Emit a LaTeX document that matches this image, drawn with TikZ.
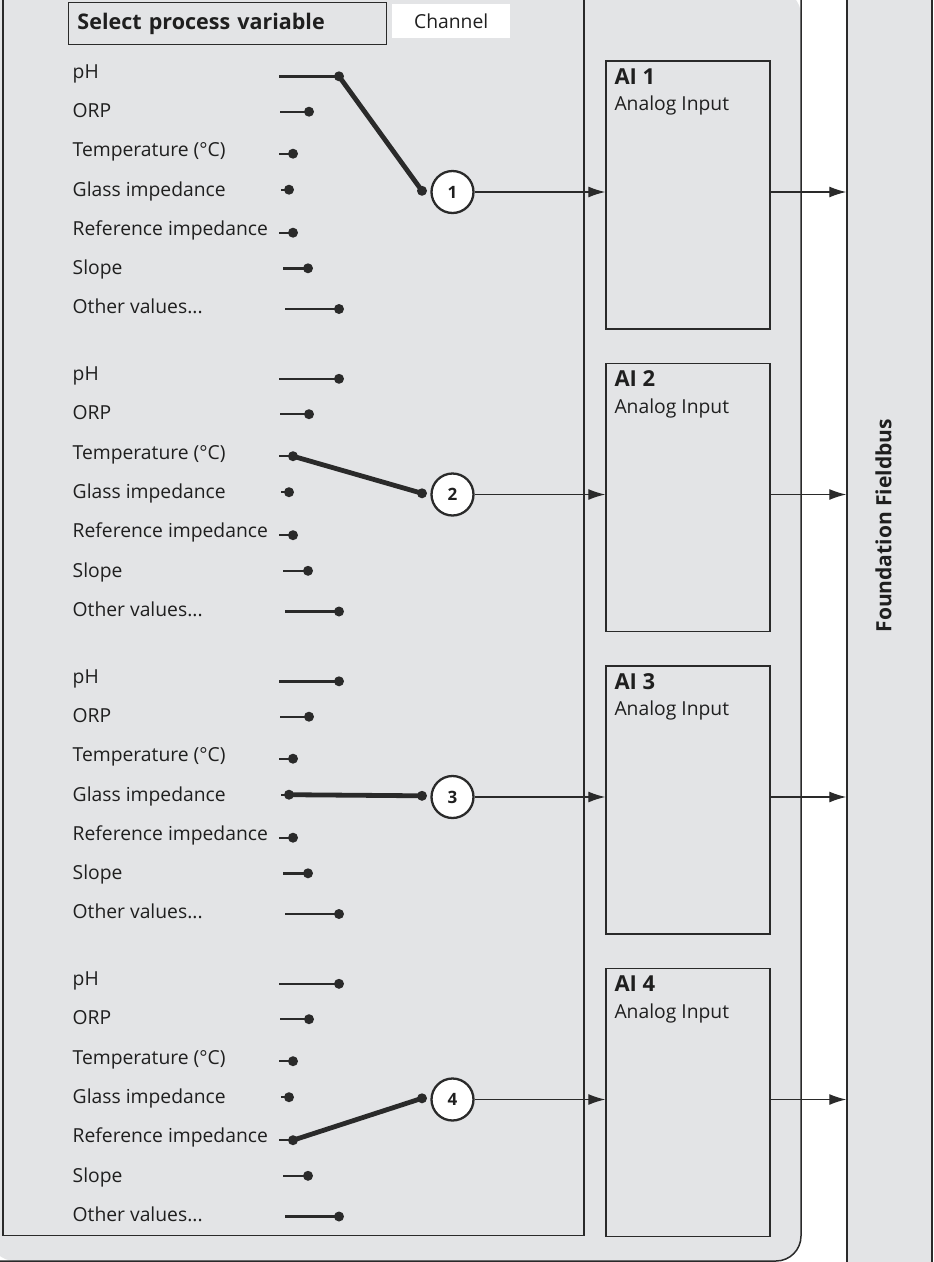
\documentclass[tikz,border=0pt]{standalone}
\usepackage{fontspec}
\setmainfont{Open Sans}
\usetikzlibrary{arrows.meta}
\definecolor{panel}{HTML}{E3E4E6}
\definecolor{ink}{HTML}{2A2A2A}
\definecolor{txt}{HTML}{1F1F1F}
\begin{document}
\begin{tikzpicture}[x=1pt,y=-1pt,
  lbl/.style={anchor=base west, inner sep=0, font=\fontsize{19.3}{23}\selectfont, text=txt},
  boldtxt/.style={font=\fontsize{21.5}{25}\selectfont\bfseries, text=txt},
  dot/.style={circle, fill=ink, inner sep=0, minimum size=10pt},
  stub/.style={line width=2.4pt, draw=ink},
  sel/.style={line width=4.8pt, draw=ink},
  numc/.style={circle, draw=ink, fill=white, line width=2.3pt, minimum size=42pt, inner sep=0, font=\fontsize{17}{20}\selectfont\bfseries, text=txt},
  aibox/.style={draw=ink, line width=1.5pt, anchor=north west, minimum width=163.7pt, minimum height=268pt, inner sep=0},
  arr/.style={draw=ink, line width=1.3pt, -{Latex[length=17pt,width=11pt]}},
  panelline/.style={draw=ink, line width=1.5pt}]
\useasboundingbox (0,0) rectangle (934,1262);
\fill[white] (0,0) rectangle (934,1262);
% outer panel
\fill[panel, rounded corners=25pt] (-10,-10) -- (801,-10) -- (801,1261) -- (-10,1261) -- cycle;
\draw[panelline, rounded corners=25pt] (801,-10) -- (801,1261) -- (-10,1261);
% inner panel
\draw[panelline] (3,-10) -- (3,1235.5) -- (584,1235.5) -- (584,-10);
% fieldbus
\node[draw=ink, fill=panel, line width=1.5pt, minimum width=85pt, minimum height=1300pt, inner sep=0] (fb) at (889.5,631) {};
\node[font=\fontsize{21}{25}\selectfont\bfseries, text=txt, rotate=90, inner sep=0] (fbl) at (883.5,525.7) {Foundation Fieldbus};
% header
\node[draw=ink, line width=1.5pt, anchor=north west, minimum height=42pt, text width=300pt, inner xsep=9pt, inner ysep=0, align=left, boldtxt] (spv) at (67.7,1.7) {Select process variable};
\node[fill=white, minimum width=117.7pt, minimum height=33.7pt, inner sep=0, font=\fontsize{19.3}{23}\selectfont, text=txt] (chan) at (451.2,20.85) {Channel};
% sections
\foreach \k/\sel in {0/ph,1/temp,2/glass,3/ref}{
  \begin{scope}[shift={(0,\k*302.5)}]
    \foreach \n/\t/\b/\sy/\xa/\xb in {ph/{pH}/78.1/76.3/279/339, orp/{ORP}/117.4/111.7/280/309, temp/{Temperature (°C)}/156.7/153.7/279/293, glass/{Glass impedance}/196/189.7/281/289, ref/{Reference impedance}/235.3/232.7/279/293, slope/{Slope}/274.6/268.3/283/308, other/{Other values...}/313.9/309/285/339}{
      \node[lbl] (l\k\n) at (72.5,\b) {\t};
      \coordinate (a\k\n) at (\xa,\sy);
      \node[dot] (d\k\n) at (\xb,\sy) {};
      \draw[stub] (a\k\n) -- (d\k\n.center);
    }
    \node[dot] (j\k) at (422,190.8) {};
    \draw[sel] (d\k\sel.center) -- (j\k.center);
    \node[numc] (c\k) at (452.5,192) {\number\numexpr\k+1\relax};
    \node[aibox] (ai\k) at (605.3,60) {};
    \node[anchor=base west, inner sep=0, font=\fontsize{22}{25}\selectfont\bfseries, text=txt] (ait\k) at (614.3,84.3) {AI \number\numexpr\k+1\relax};
    \node[lbl] (ais\k) at (614.3,110.7) {Analog Input};
    \draw[arr] (c\k.east) -- (c\k.east -| ai\k.west);
    \draw[arr] (c\k.east -| ai\k.east) -- (c\k.east -| fb.west);
  \end{scope}
}
\end{tikzpicture}
\end{document}
